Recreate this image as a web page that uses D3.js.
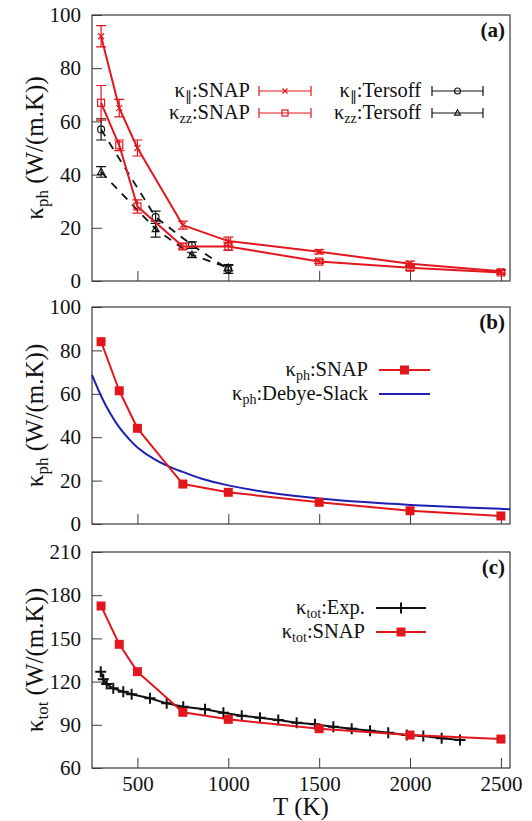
<!DOCTYPE html>
<html><head><meta charset="utf-8">
<script src="https://cdn.jsdelivr.net/npm/d3@7"></script>
<style>html,body{margin:0;padding:0;background:#fff;}</style></head>
<body>
<svg id="chart" width="532" height="821"></svg>
<script>
// ---------- data ----------
const xTicks = [500, 1000, 1500, 2000, 2500];
const yTicksPh = [0, 20, 40, 60, 80, 100];
const yTicksTot = [60, 90, 120, 150, 180, 210];

// panel (a)
const T_snap = [300, 400, 500, 750, 1000, 1500, 2000, 2500];
const kPar_snap = [92, 65, 50, 21, 15, 11, 6.5, 3.7];
const kPar_snap_err = [4, 3.3, 3, 1.5, 1.5, 0.8, 1, 0.6];
const kZZ_snap = [67, 51, 28, 13, 13, 7.3, 5, 3.2];
const kZZ_snap_err = [6.5, 2, 2.5, 1, 1.5, 0.7, 1, 0.7];
const T_ters = [300, 600, 800, 1000];
const kPar_ters = [57, 24, 13.5, 4.4];
const kPar_ters_err = [4, 2.3, 1.2, 1.5];
const kZZ_ters = [41, 19.5, 9.8, 5];
const kZZ_ters_err = [2, 3, 1, 1.2];

// panel (b)
const kph_snap = [84, 61.4, 44.1, 18.4, 14.6, 10, 6.1, 3.7];
const T_ds = [250, 300, 350, 400, 450, 500, 600, 700, 750, 850, 1000, 1250, 1500, 1750, 2000, 2250, 2500, 2550];
const kph_ds = [68.7, 59, 51, 44.5, 39.5, 35.3, 29.5, 25.5, 24, 21, 17.8, 14.2, 11.8, 10.1, 8.8, 7.8, 7, 6.8];

// panel (c)
const T_exp = [298, 312, 331, 367, 422, 468, 569, 661, 752, 872, 973, 1074, 1174, 1275, 1376, 1477, 1578, 1679, 1780, 1880, 1982, 2073, 2174, 2275];
const ktot_exp = [126.9, 121.6, 118.3, 115.3, 113, 111.2, 108.4, 104.9, 102.6, 100.8, 98.4, 96.3, 94.9, 93.3, 91.5, 90.3, 88.7, 87.3, 85.9, 84.5, 82.9, 82.2, 80.6, 79.4];
const ktot_snap = [172.5, 145.9, 126.9, 98.7, 93.8, 87.3, 82.9, 80.1];

// ---------- layout ----------
const SERIF = "'Liberation Serif'";
const svg = d3.select("#chart");
const X0 = 92, X1 = 510;
const RED = "#e3161d", BLUE = "#1f1fb4", FRAME = "#3a3a3a";
const FS = 21, FL = 20.5, FT = 25;
const x = d3.scaleLinear().domain([250, 2550]).range([X0, X1]);

const panels = [
  {id: "a", top: 15, bot: 281, dom: [0, 100], ticks: yTicksPh, sub: "ph"},
  {id: "b", top: 307, bot: 524, dom: [0, 100], ticks: yTicksPh, sub: "ph"},
  {id: "c", top: 552, bot: 768, dom: [60, 210], ticks: yTicksTot, sub: "tot"}
];
panels.forEach(p => { p.y = d3.scaleLinear().domain(p.dom).range([p.bot, p.top]); });

function frameAndAxes(p, showX) {
  const g = svg.append("g");
  const ax = d3.axisBottom(x).tickValues(xTicks).tickSize(-10).tickPadding(8).tickFormat(showX ? d3.format("d") : () => "");
  const gx = g.append("g").attr("transform", `translate(0,${p.bot})`).call(ax);
  const ay = d3.axisLeft(p.y).tickValues(p.ticks).tickSize(-10).tickPadding(11).tickFormat(d3.format("d"));
  const gy = g.append("g").attr("transform", `translate(${X0},0)`).call(ay);
  [gx, gy].forEach(a => {
    a.attr("font-family", null);
    a.select(".domain").remove();
    a.selectAll("line").attr("stroke", FRAME).attr("stroke-width", 1);
    a.selectAll("text").attr("font-size", FS).attr("fill", "#111").style("font-family", SERIF);
  });
  g.append("rect").attr("x", X0).attr("y", p.top).attr("width", X1 - X0).attr("height", p.bot - p.top)
    .attr("fill", "none").attr("stroke", FRAME).attr("stroke-width", 1.2);
  // panel label
  g.append("text").attr("x", 505).attr("y", p.top + 22).attr("text-anchor", "end").style("font-family", SERIF)
    .attr("font-size", FS).attr("font-weight", "bold").attr("fill", "#111").text(`(${p.id})`);
  // y title
  const t = g.append("text").attr("transform", `translate(43,${(p.top + p.bot) / 2}) rotate(-90)`)
    .attr("text-anchor", "middle").attr("font-size", FT).attr("fill", "#111").style("font-family", SERIF);
  t.append("tspan").text("κ");
  t.append("tspan").attr("font-size", 17).attr("dy", 5).text(p.sub);
  t.append("tspan").attr("dy", -5).text(" (W/(m.K))");
}

frameAndAxes(panels[0], false);
frameAndAxes(panels[1], false);
frameAndAxes(panels[2], true);

// marker helpers
function marker(g, kind, cx, cy, color, size) {
  const s = size;
  if (kind === "x") {
    g.append("path").attr("d", `M${cx - s},${cy - s}L${cx + s},${cy + s}M${cx - s},${cy + s}L${cx + s},${cy - s}`)
      .attr("stroke", color).attr("stroke-width", 1.2).attr("fill", "none");
  } else if (kind === "sq") {
    g.append("rect").attr("x", cx - s).attr("y", cy - s).attr("width", 2 * s).attr("height", 2 * s)
      .attr("stroke", color).attr("stroke-width", 1.2).attr("fill", "none");
  } else if (kind === "fsq") {
    g.append("rect").attr("x", cx - s).attr("y", cy - s).attr("width", 2 * s).attr("height", 2 * s)
      .attr("fill", color);
  } else if (kind === "circ") {
    g.append("circle").attr("cx", cx).attr("cy", cy).attr("r", s)
      .attr("stroke", color).attr("stroke-width", 1.1).attr("fill", "none");
  } else if (kind === "tri") {
    g.append("path").attr("d", `M${cx},${cy - s * 1.1}L${cx + s},${cy + s * 0.7}L${cx - s},${cy + s * 0.7}Z`)
      .attr("stroke", color).attr("stroke-width", 1.1).attr("fill", "none");
  } else if (kind === "plus") {
    g.append("path").attr("d", `M${cx - s},${cy}L${cx + s},${cy}M${cx},${cy - s}L${cx},${cy + s}`)
      .attr("stroke", color).attr("stroke-width", 2).attr("fill", "none");
  }
}

function series(p, xs, ys, opt) {
  const g = svg.append("g");
  const pts = xs.map((t, i) => [x(t), p.y(ys[i])]);
  const line = d3.line().curve(opt.curve || d3.curveLinear);
  if (opt.lw) {
    g.append("path").attr("d", line(pts)).attr("fill", "none").attr("stroke", opt.color)
      .attr("stroke-width", opt.lw).attr("stroke-dasharray", opt.dash || null).attr("stroke-linejoin", "round");
  }
  if (opt.err) {
    xs.forEach((t, i) => {
      const cx = x(t), y1 = p.y(ys[i] + opt.err[i]), y2 = p.y(ys[i] - opt.err[i]);
      g.append("path").attr("d", `M${cx},${y1}L${cx},${y2}M${cx - 5},${y1}L${cx + 5},${y1}M${cx - 5},${y2}L${cx + 5},${y2}`)
        .attr("stroke", opt.ecolor || opt.color).attr("stroke-width", 1.2).attr("fill", "none");
    });
  }
  if (opt.marker) pts.forEach(q => marker(g, opt.marker, q[0], q[1], opt.color, opt.ms));
}

// panel (a)
const pa = panels[0];
series(pa, T_ters, kPar_ters, {color: "#111", lw: 1.8, dash: "8,7", err: kPar_ters_err, marker: "circ", ms: 3.5});
series(pa, T_ters, kZZ_ters, {color: "#111", lw: 1.8, dash: "8,7", err: kZZ_ters_err, marker: "tri", ms: 3.5});
series(pa, T_snap, kPar_snap, {color: RED, lw: 2, err: kPar_snap_err, marker: "x", ms: 3});
series(pa, T_snap, kZZ_snap, {color: RED, lw: 2, err: kZZ_snap_err, marker: "sq", ms: 3.5});

// panel (b)
const pb = panels[1];
series(pb, T_ds, kph_ds, {color: BLUE, lw: 2, curve: d3.curveCatmullRom});
series(pb, T_snap, kph_snap, {color: RED, lw: 2, marker: "fsq", ms: 4.5});

// panel (c)
const pc = panels[2];
series(pc, T_exp, ktot_exp, {color: "#111", lw: 2, marker: "plus", ms: 5.5});
series(pc, T_snap, ktot_snap, {color: RED, lw: 2, marker: "fsq", ms: 4.5});

// ---------- legends ----------
function legText(tx, ty, sub, rest) {
  const t = svg.append("text").attr("x", tx).attr("y", ty).attr("text-anchor", "end").style("font-family", SERIF)
    .attr("font-size", FL).attr("fill", "#111");
  t.append("tspan").text("κ");
  t.append("tspan").attr("font-size", 14).attr("dy", 3.5).text(sub);
  t.append("tspan").attr("dy", -3.5).text(rest);
}
function legErr(x1, x2, cy, color, kind) {
  const g = svg.append("g");
  g.append("path").attr("d", `M${x1},${cy}L${x2},${cy}M${x1},${cy - 5}L${x1},${cy + 5}M${x2},${cy - 5}L${x2},${cy + 5}`)
    .attr("stroke", color).attr("stroke-width", 1.2).attr("fill", "none");
  marker(g, kind, (x1 + x2) / 2, cy, color, kind === "x" ? 2.5 : 3);
}
function legLine(x1, x2, cy, color, kind) {
  const g = svg.append("g");
  g.append("path").attr("d", `M${x1},${cy}L${x2},${cy}`).attr("stroke", color).attr("stroke-width", 2);
  if (kind) marker(g, kind, (x1 + x2) / 2, cy, color, kind === "plus" ? 5.5 : 4.5);
}

// (a)
legText(250, 97, "∥", ":SNAP");
legErr(259, 311, 91, RED, "x");
legText(250, 119, "zz", ":SNAP");
legErr(259, 311, 113, RED, "sq");
legText(421, 97, "∥", ":Tersoff");
legErr(432, 483, 91, "#111", "circ");
legText(421, 119, "zz", ":Tersoff");
legErr(432, 483, 113, "#111", "tri");

// (b)
legText(368, 376, "ph", ":SNAP");
legLine(379, 430, 370, RED, "fsq");
legText(368, 400, "ph", ":Debye-Slack");
legLine(379, 430, 394, BLUE, null);

// (c)
legText(365, 614, "tot", ":Exp.");
legLine(376, 426, 608, "#111", "plus");
legText(365, 638, "tot", ":SNAP");
legLine(376, 426, 632, RED, "fsq");

// x title
svg.append("text").attr("x", 301).attr("y", 815).attr("text-anchor", "middle").style("font-family", SERIF)
  .attr("font-size", FT).attr("fill", "#111").text("T (K)");
</script>
</body></html>
